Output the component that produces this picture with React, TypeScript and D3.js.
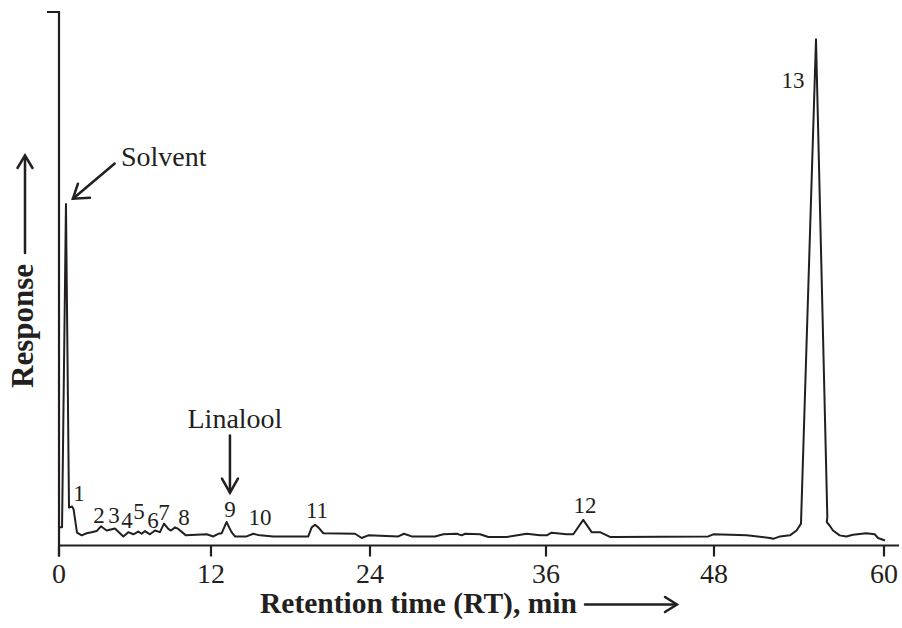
import React from "react";
import * as d3 from "d3";

// retention time (min) and detector response (% of axis height)
const rtMin = [
  0, 0.24, 0.55, 0.79, 1.03, 1.15, 1.42, 1.79, 2.18, 2.58, 2.97, 3.31, 3.76, 4.42, 5.08, 5.47, 5.87,
  6.26, 6.53, 6.79, 7.18, 7.58, 7.97, 8.29, 8.63, 8.84, 9.16, 9.42, 10.02, 11.66, 12.17, 12.55, 12.81,
  13.17, 13.55, 13.81, 14.69, 15.19, 15.7, 16.7, 19.34, 19.6, 19.85, 20.1, 20.48, 22.87, 23.37, 23.87,
  25.93, 26.32, 26.84, 28.43, 29.0, 29.91, 30.25, 30.48, 31.5, 32.07, 33.32, 34.69, 35.59, 36.05, 36.4,
  37.48, 37.95, 38.66, 39.26, 39.86, 40.57, 40.91, 47.59, 47.95, 50.31, 51.95, 52.18, 52.66, 53.36,
  53.83, 54.14, 55.2, 56.0, 55.96, 56.16, 56.4, 56.87, 57.34, 57.81, 58.75, 59.34, 59.58, 60.07,
];
const response = [
  3.4, 3.4, 64.0, 7.1, 7.3, 6.8, 2.4, 1.9, 2.3, 2.5, 2.7, 3.6, 2.8, 3.2, 1.7, 2.5, 2.1,
  2.6, 2.2, 2.7, 2.1, 2.8, 2.5, 4.1, 3.1, 2.8, 3.4, 3.1, 1.9, 2.1, 1.7, 2.2, 2.3,
  4.4, 2.5, 1.7, 1.7, 2.2, 1.9, 1.7, 1.7, 3.4, 3.9, 3.4, 2.3, 2.2, 1.4, 1.9,
  1.7, 2.2, 1.7, 1.7, 2.1, 2.2, 1.9, 2.2, 2.1, 1.6, 1.6, 2.2, 1.9, 1.9, 2.4,
  2.1, 2.1, 4.8, 2.5, 2.5, 1.6, 1.6, 1.7, 2.1, 1.9, 1.4, 1.25, 1.7, 1.9,
  2.8, 4.1, 94.9, 5.3, 4.4, 3.75, 2.8, 1.9, 1.7, 2.0, 2.3, 2.1, 1.4, 0.94,
];

const xTicks = [0, 12, 24, 36, 48, 60];
// the printed axis is not evenly spaced, so each tick has its own pixel position
const xTickPx = [59, 211, 370, 546, 714, 884];

const peakLabels = ["1", "2", "3", "4", "5", "6", "7", "8", "9", "10", "11", "12", "13"];
const peakLabelRt = [1.58, 3.16, 4.34, 5.37, 6.31, 7.42, 8.29, 9.87, 13.43, 15.7, 20.0, 38.79, 53.58];
const peakLabelResp = [8.4, 4.3, 4.3, 3.2, 4.9, 3.2, 4.7, 3.75, 5.25, 3.9, 5.07, 6.0, 85.7];

const serif = "'Liberation Serif', 'Times New Roman', serif";
const ink = "#231f20";

export default function App() {
  const width = 902;
  const height = 628;
  const x = d3.scaleLinear().domain(xTicks).range(xTickPx);
  const y = d3.scaleLinear().domain([0, 100]).range([545.5, 12]);

  const pts = rtMin.map((t, i) => [t, response[i]] as [number, number]);
  const line = d3
    .line<[number, number]>()
    .x((d) => x(d[0]))
    .y((d) => y(d[1]));

  const x0 = x(0);
  const y0 = y(0);

  // annotation arrows in data units
  const solvFrom: [number, number] = [4.4, 71.6];
  const solvTo: [number, number] = [1.1, 65.0];
  const linRt = 13.43;

  const sx1 = x(solvFrom[0]), sy1 = y(solvFrom[1]);
  const sx2 = x(solvTo[0]), sy2 = y(solvTo[1]);

  return (
    <svg
      width={width}
      height={height}
      style={{ position: "absolute", left: 0, top: 0, background: "#fff" }}
      fontFamily={serif}
    >
      {/* axes */}
      <g stroke={ink} strokeWidth={2.2} fill="none">
        <path d={`M${x0 - 12},12 H${x0} V${y0 + 11}`} />
        <line x1={x0} x2={899} y1={y0} y2={y0} />
        {xTicks.map((t) => (
          <line key={t} x1={x(t)} x2={x(t)} y1={y0} y2={y0 + 11} />
        ))}
      </g>
      {xTicks.map((t) => (
        <text key={t} x={x(t)} y={583} fontSize={28} textAnchor="middle" fill={ink}>
          {t}
        </text>
      ))}

      {/* trace */}
      <path d={line(pts) ?? ""} fill="none" stroke={ink} strokeWidth={2} strokeLinejoin="round" />

      {/* peak numbers */}
      {peakLabels.map((l, i) => (
        <text
          key={l}
          x={x(peakLabelRt[i])}
          y={y(peakLabelResp[i])}
          fontSize={23}
          textAnchor="middle"
          fill={ink}
        >
          {l}
        </text>
      ))}

      {/* Solvent */}
      <text x={x(4.89)} y={y(71.1)} fontSize={28} fill={ink}>
        Solvent
      </text>
      <g stroke={ink} strokeWidth={2.5} fill="none" strokeLinecap="round">
        <line x1={sx1} y1={sy1} x2={sx2} y2={sy2} />
        <path d={`M${sx2 + 5},${sy2 - 15} L${sx2},${sy2} L${sx2 + 17},${sy2 - 1}`} />
      </g>

      {/* Linalool */}
      <text x={x(linRt) + 5} y={y(22.1)} fontSize={28} textAnchor="middle" fill={ink}>
        Linalool
      </text>
      <g stroke={ink} strokeWidth={2.5} fill="none" strokeLinecap="round">
        <line x1={x(linRt)} x2={x(linRt)} y1={y(20.6)} y2={y(9.9)} />
        <path d={`M${x(linRt) - 8},${y(9.9) - 14} L${x(linRt)},${y(9.9)} L${x(linRt) + 8},${y(9.9) - 14}`} />
      </g>

      {/* axis titles */}
      <text
        transform="translate(33,326) rotate(-90)"
        fontSize={31}
        fontWeight="bold"
        textAnchor="middle"
        fill={ink}
      >
        Response
      </text>
      <g stroke={ink} strokeWidth={2.5} fill="none" strokeLinecap="round">
        <line x1={25} x2={25} y1={253} y2={156} />
        <path d="M17.5,168 L25,155.5 L32.5,168" />
      </g>
      <text x={260} y={613} fontSize={29.5} fontWeight="bold" fill={ink}>
        Retention time (RT), min
      </text>
      <g stroke={ink} strokeWidth={2.5} fill="none" strokeLinecap="round">
        <line x1={585} x2={676} y1={604.5} y2={604.5} />
        <path d="M665,597 L677,604.5 L665,612" />
      </g>
    </svg>
  );
}
